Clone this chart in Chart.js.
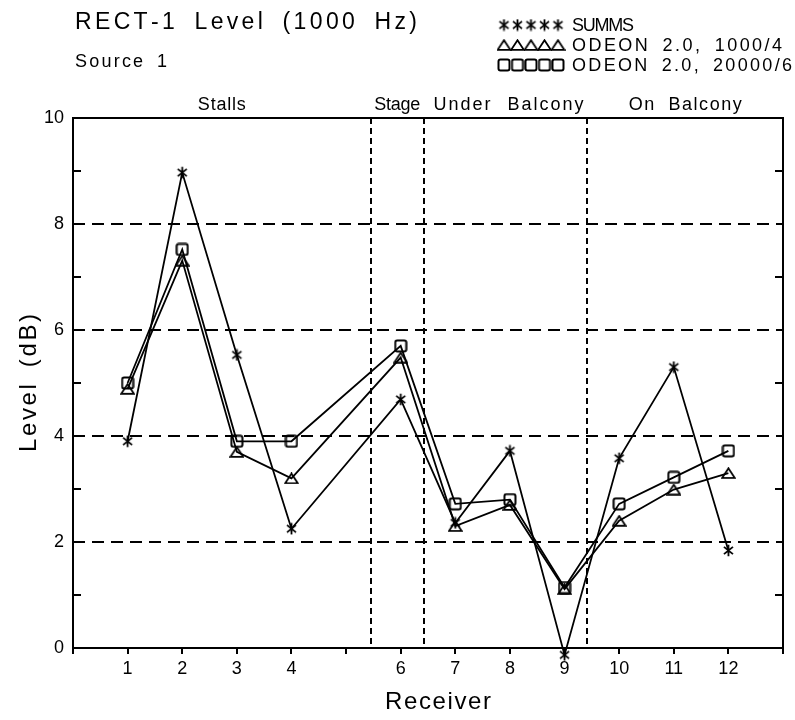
<!DOCTYPE html>
<html>
<head>
<meta charset="utf-8">
<script src="https://cdn.jsdelivr.net/npm/chart.js@4/dist/chart.umd.min.js"></script>
<style>
html,body{margin:0;padding:0;background:#fff;}
#wrap{width:795px;height:720px;position:relative;}
</style>
</head>
<body>
<div id="wrap"><canvas id="c" width="795" height="720"></canvas></div>
<script>
// ---------- data ----------
const receivers   = [1, 2, 3, 4, 6, 7, 8, 9, 10, 11, 12];
const summs       = [3.90, 8.97, 5.53, 2.25, 4.69, 2.36, 3.72, -0.13, 3.58, 5.30, 1.84];
const odeon1000   = [4.89, 7.31, 3.70, 3.20, 5.48, 2.30, 2.70, 1.11, 2.40, 2.99, 3.30];
const odeon20000  = [5.00, 7.52, 3.90, 3.90, 5.70, 2.72, 2.80, 1.14, 2.72, 3.22, 3.72];
const seriesNames = ['SUMMS', 'ODEON 2.0, 1000/4', 'ODEON 2.0, 20000/6'];
const xTickLabels = ['', '1', '2', '3', '4', '', '6', '7', '8', '9', '10', '11', '12', ''];
const yTickLabels = ['0', '', '2', '', '4', '', '6', '', '8', '', '10'];
const sectionNames  = ['Stalls', 'Stage', 'Under Balcony', 'On Balcony'];
const sectionBounds = [5.45, 6.42, 9.42];
const titleText    = 'RECT-1 Level (1000 Hz)';
const subtitleText = 'Source 1';
const xTitleText   = 'Receiver';
const yTitleText   = 'Level (dB)';

// ---------- markers ----------
const FONT = '"Liberation Sans", Arial, sans-serif';
function makeStar() {
  const s = 13, c = document.createElement('canvas'); c.width = s; c.height = s;
  const g = c.getContext('2d'); g.strokeStyle = '#000'; g.lineWidth = 1.8; g.lineCap = 'butt';
  const m = s / 2, r = 5.8;
  g.beginPath();
  g.moveTo(m, m - r); g.lineTo(m, m + r);
  g.moveTo(m - 0.78 * r, m - 0.62 * r); g.lineTo(m + 0.78 * r, m + 0.62 * r);
  g.moveTo(m + 0.78 * r, m - 0.62 * r); g.lineTo(m - 0.78 * r, m + 0.62 * r);
  g.stroke();
  return c;
}
function makeTriangle() {
  const w = 15, h = 12, c = document.createElement('canvas'); c.width = w; c.height = h;
  const g = c.getContext('2d'); g.strokeStyle = '#000'; g.lineWidth = 1.8; g.lineJoin = 'miter';
  g.beginPath(); g.moveTo(w / 2, 1.2); g.lineTo(1.2, h - 1.2); g.lineTo(w - 1.2, h - 1.2); g.closePath(); g.stroke();
  return c;
}
function makeSquare() {
  const s = 14, c = document.createElement('canvas'); c.width = s; c.height = s;
  const g = c.getContext('2d'); g.strokeStyle = '#000'; g.lineWidth = 2;
  g.beginPath();
  if (g.roundRect) g.roundRect(1.5, 1.5, s - 3, s - 3, 2); else g.rect(1.5, 1.5, s - 3, s - 3);
  g.stroke();
  return c;
}
const starImg = makeStar(), triImg = makeTriangle(), sqImg = makeSquare();
const markerImgs = [starImg, triImg, sqImg];

// ---------- text helper ----------
function drawSpaced(ctx, text, x, y, targetW, align, spaceWeight) {
  const sw = spaceWeight || 2;
  const chars = [...text];
  const ws = chars.map(ch => ctx.measureText(ch).width);
  const natural = ws.reduce((a, b) => a + b, 0);
  const wt = i => (chars[i] === ' ' || chars[i + 1] === ' ') ? sw : 1;
  let weights = 0;
  for (let i = 0; i < chars.length - 1; i++) weights += wt(i);
  const unit = (targetW == null || weights === 0) ? 0 : (targetW - natural) / weights;
  const total = targetW == null ? natural : targetW;
  let cx = align === 'center' ? x - total / 2 : (align === 'right' ? x - total : x);
  ctx.textAlign = 'left';
  chars.forEach((ch, i) => {
    ctx.fillText(ch, cx, y);
    if (i < chars.length - 1) cx += ws[i] + unit * wt(i);
  });
}

// ---------- decoration plugin ----------
const sectionLabelWidths = [48, 46, 150, 113];
const decor = {
  id: 'decor',
  beforeDatasetsDraw(chart) {
    const { ctx, chartArea: a, scales: { x, y } } = chart;
    ctx.save();
    ctx.strokeStyle = '#000';
    // horizontal dashed grid at labelled interior ticks
    ctx.lineWidth = 2; ctx.setLineDash([12, 7]);
    y.ticks.forEach(t => {
      if (yTickLabels[t.value] && t.value > y.min && t.value < y.max) {
        const py = Math.round(y.getPixelForValue(t.value));
        ctx.beginPath(); ctx.moveTo(a.left, py); ctx.lineTo(a.right, py); ctx.stroke();
      }
    });
    // vertical section dividers
    ctx.setLineDash([6, 4]);
    sectionBounds.forEach(b => {
      const px = Math.round(x.getPixelForValue(b));
      ctx.beginPath(); ctx.moveTo(px, a.top); ctx.lineTo(px, a.bottom); ctx.stroke();
    });
    ctx.setLineDash([]);
    // frame
    ctx.lineWidth = 2;
    ctx.strokeRect(a.left, a.top, a.right - a.left, a.bottom - a.top);
    // minor y ticks (inward, both sides)
    y.ticks.forEach(t => {
      if (!yTickLabels[t.value]) {
        const py = Math.round(y.getPixelForValue(t.value));
        ctx.beginPath();
        ctx.moveTo(a.left, py); ctx.lineTo(a.left + 8, py);
        ctx.moveTo(a.right, py); ctx.lineTo(a.right - 8, py);
        ctx.stroke();
      }
    });
    // section labels
    ctx.fillStyle = '#000';
    ctx.font = '18px ' + FONT;
    ctx.textBaseline = 'alphabetic';
    const edges = [x.min, ...sectionBounds, x.max];
    sectionNames.forEach((name, i) => {
      const cx = x.getPixelForValue((edges[i] + edges[i + 1]) / 2);
      drawSpaced(ctx, name, cx + (i === 2 ? 3 : 0), a.top - 8, sectionLabelWidths[i], 'center', 3);
    });
    ctx.restore();
  },
  afterDraw(chart) {
    const { ctx, chartArea: a } = chart;
    ctx.save();
    ctx.fillStyle = '#000';
    ctx.textBaseline = 'alphabetic';
    // title and subtitle
    ctx.font = '23px ' + FONT;
    drawSpaced(ctx, titleText, 75, 29, 342, 'left');
    ctx.font = '18px ' + FONT;
    drawSpaced(ctx, subtitleText, 75, 67, 92, 'left');
    // legend
    const rowsY = [25, 45, 65];
    const textW = [62, 210, 220];
    seriesNames.forEach((name, i) => {
      const img = markerImgs[i];
      for (let k = 0; k < 5; k++) {
        const cx = 504 + k * 13.5;
        ctx.drawImage(img, cx - img.width / 2, rowsY[i] - img.height / 2);
      }
      ctx.font = '18px ' + FONT;
      ctx.textBaseline = 'middle';
      drawSpaced(ctx, name, 572, rowsY[i] + 1, textW[i], 'left');
    });
    // axis titles
    ctx.font = '24px ' + FONT;
    ctx.textBaseline = 'middle';
    drawSpaced(ctx, xTitleText, 438, 702, 106, 'center');
    ctx.translate(29, (a.top + a.bottom) / 2);
    ctx.rotate(-Math.PI / 2);
    drawSpaced(ctx, yTitleText, 0, 0, 138, 'center');
    ctx.restore();
  }
};

// ---------- chart ----------
function series(ys) { return receivers.map((r, i) => ({ x: r, y: ys[i] })); }
const common = {
  borderColor: '#000', borderWidth: 1.8, tension: 0, fill: false, clip: false,
  pointRadius: 6, pointHoverRadius: 6, showLine: true
};
new Chart(document.getElementById('c'), {
  type: 'scatter',
  data: {
    datasets: [
      Object.assign({ label: seriesNames[0], data: series(summs), pointStyle: starImg }, common),
      Object.assign({ label: seriesNames[1], data: series(odeon1000), pointStyle: triImg }, common),
      Object.assign({ label: seriesNames[2], data: series(odeon20000), pointStyle: sqImg }, common)
    ]
  },
  options: {
    responsive: false, animation: false, events: [],
    layout: { padding: { top: 118, left: 0, right: 12, bottom: 0 } },
    plugins: { legend: { display: false }, tooltip: { enabled: false }, title: { display: false } },
    scales: {
      x: {
        type: 'linear', min: 0, max: 13,
        ticks: {
          stepSize: 1, autoSkip: false, maxRotation: 0, minRotation: 0, padding: 4,
          color: '#000', font: { family: FONT, size: 18 },
          callback: v => (xTickLabels[v] !== undefined ? xTickLabels[v] : '')
        },
        grid: { drawOnChartArea: false, drawTicks: true, tickLength: 6, color: '#000', lineWidth: 2 },
        border: { display: false },
        afterFit: s => { s.height = 72; }
      },
      y: {
        min: 0, max: 10,
        ticks: {
          stepSize: 1, autoSkip: false, padding: 9,
          color: '#000', font: { family: FONT, size: 18 },
          callback: v => (yTickLabels[v] !== undefined ? yTickLabels[v] : '')
        },
        grid: { display: false, drawTicks: false },
        border: { display: false },
        afterFit: s => { s.width = 73; }
      }
    }
  },
  plugins: [decor]
});
</script>
</body>
</html>
